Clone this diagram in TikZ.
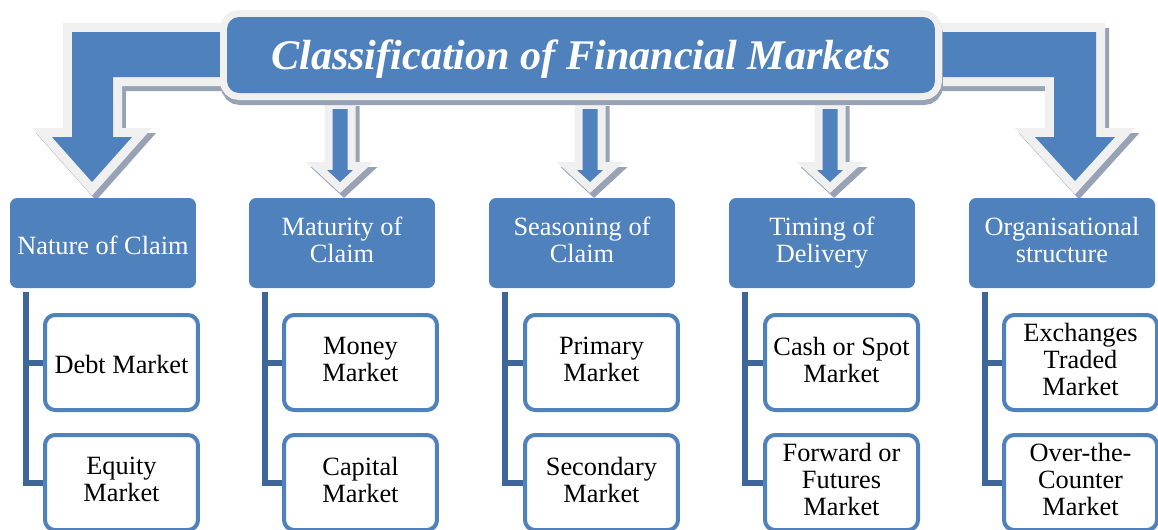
\documentclass[tikz,border=0pt]{standalone}
\usepackage{fontspec}
\setmainfont{Liberation Serif}
\usepackage{tikz}

\definecolor{boxblue}{RGB}{79,129,189}
\definecolor{linkblue}{RGB}{62,102,152}
\definecolor{framegrey}{RGB}{240,240,240}
\definecolor{shadowgrey}{RGB}{151,163,180}

\begin{document}
\begin{tikzpicture}[x=0.02cm, y=-0.02cm,
  catbox/.style={fill=boxblue, rounded corners=0.14cm, text=white, align=center,
    minimum width=3.72cm, minimum height=1.8cm, inner sep=0pt,
    font=\fontsize{15}{15.3}\selectfont,
    execute at begin node={\rule{0pt}{16.5pt}},
    execute at end node={\rule[-3.5pt]{0pt}{3.5pt}}},
  leafbox/.style={draw=boxblue, line width=0.08cm, fill=white, rounded corners=0.2cm,
    align=center, minimum width=3.06cm, minimum height=1.9cm, inner sep=0pt,
    font=\fontsize{15}{15.3}\selectfont,
    execute at begin node={\rule{0pt}{16.5pt}},
    execute at end node={\rule[-3.5pt]{0pt}{3.5pt}}},
  link/.style={draw=linkblue, line width=0.12cm},
  blockarrow/.style={fill=boxblue,
    preaction={draw=shadowgrey, fill=shadowgrey, line width=#1, line join=miter,
      transform canvas={shift={(0.08cm,-0.1cm)}}},
    preaction={draw=framegrey, line width=#1, line join=miter}},
  titlebox/.style={fill=boxblue, rounded corners=0.24cm, text=white,
    minimum width=14.16cm, minimum height=1.52cm, inner sep=0pt,
    font=\fontsize{24}{24}\bfseries\itshape\selectfont,
    execute at begin node={\rule{0pt}{22.5pt}},
    execute at end node={\rule[-5.5pt]{0pt}{5.5pt}},
    preaction={draw=shadowgrey, fill=shadowgrey, line width=0.28cm,
      transform canvas={shift={(0.02cm,-0.1cm)}}},
    preaction={draw=framegrey, line width=0.28cm}}
]
\def\drop{0.32cm}
\useasboundingbox (0,0) rectangle (1158,529);

% Arrows
\path[blockarrow=0.36cm] (230,32) -- (72,32) -- (72,137) -- (52,137) -- (92,182)
  -- (132,137) -- (113,137) -- (113,77) -- (230,77) -- cycle;
\path[blockarrow=0.36cm] (930,32) -- (1096,32) -- (1096,137) -- (1115,137) -- (1075,181)
  -- (1035,137) -- (1054,137) -- (1054,77) -- (930,77) -- cycle;
\path[blockarrow=0.32cm, shift={(340,0)}] (-7.5,109) -- (-7.5,170) -- (-13,170) -- (0,182)
  -- (13,170) -- (7.5,170) -- (7.5,109) -- cycle;
\path[blockarrow=0.32cm, shift={(590,0)}] (-7.5,109) -- (-7.5,170) -- (-13,170) -- (0,182)
  -- (13,170) -- (7.5,170) -- (7.5,109) -- cycle;
\path[blockarrow=0.32cm, shift={(830,0)}] (-7.5,109) -- (-7.5,170) -- (-13,170) -- (0,182)
  -- (13,170) -- (7.5,170) -- (7.5,109) -- cycle;

% Title
\node[titlebox] (title) at (581,55) {Classification of Financial Markets};

% Classes
\node[catbox] (nature) at (103,243) {Nature of Claim};
\node[catbox] (maturity) at (342,243) {Maturity of\\Claim};
\node[catbox] (seasoning) at (582,243) {Seasoning of\\Claim};
\node[catbox] (timing) at (822,243) {Timing of\\Delivery};
\node[catbox] (organisation) at (1062,243) {Organisational\\structure};

% Markets
\node[leafbox] (debt) at (121.5,362.5) {Debt Market};
\node[leafbox] (equity) at (121.5,482.5) {Equity\\Market};
\node[leafbox] (money) at (360.5,362.5) {Money\\Market};
\node[leafbox] (capital) at (360.5,482.5) {Capital\\Market};
\node[leafbox] (primary) at (601.5,362.5) {Primary\\Market};
\node[leafbox] (secondary) at (601.5,482.5) {Secondary\\Market};
\node[leafbox] (spot) at (841.5,362.5) {Cash or Spot\\Market};
\node[leafbox] (futures) at (841.5,482.5) {Forward or\\Futures\\Market};
\node[leafbox] (exchange) at (1080.5,362.5) {Exchanges\\Traded\\Market};
\node[leafbox] (otc) at (1080.5,482.5) {Over-the-\\Counter\\Market};

% Links
\draw[link] ([xshift=\drop,yshift=-0.08cm]nature.south west) |- (debt.west);
\draw[link] ([xshift=\drop,yshift=-0.08cm]nature.south west) |- (equity.west);
\draw[link] ([xshift=\drop,yshift=-0.08cm]maturity.south west) |- (money.west);
\draw[link] ([xshift=\drop,yshift=-0.08cm]maturity.south west) |- (capital.west);
\draw[link] ([xshift=\drop,yshift=-0.08cm]seasoning.south west) |- (primary.west);
\draw[link] ([xshift=\drop,yshift=-0.08cm]seasoning.south west) |- (secondary.west);
\draw[link] ([xshift=\drop,yshift=-0.08cm]timing.south west) |- (spot.west);
\draw[link] ([xshift=\drop,yshift=-0.08cm]timing.south west) |- (futures.west);
\draw[link] ([xshift=\drop,yshift=-0.08cm]organisation.south west) |- (exchange.west);
\draw[link] ([xshift=\drop,yshift=-0.08cm]organisation.south west) |- (otc.west);

\end{tikzpicture}
\end{document}
